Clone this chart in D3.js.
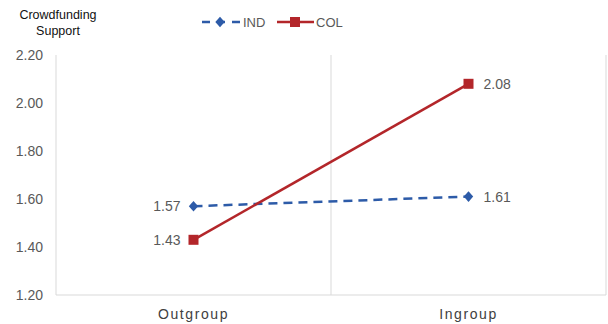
<!DOCTYPE html>
<html><head><meta charset="utf-8">
<script src="https://cdn.jsdelivr.net/npm/d3@7"></script>
<style>body{margin:0;background:#fff;}svg{display:block;font-family:"Liberation Sans",Arial,sans-serif;}</style>
</head><body>
<svg id="c" width="608" height="324"></svg>
<script>
const categories = ["Outgroup", "Ingroup"];
const seriesNames = ["IND", "COL"];
const indValues = [1.57, 1.61];
const colValues = [1.43, 2.08];
const yTicks = [1.20, 1.40, 1.60, 1.80, 2.00, 2.20];

const svg = d3.select("#c");
const m = {l: 56, r: 2, t: 55, b: 29};
const W = 608, H = 324;
const x = d3.scaleBand().domain(categories).range([m.l, W - m.r]);
const y = d3.scaleLinear().domain([1.2, 2.2]).range([H - m.b, m.t]);
const grid = "#d9d9d9", txt = "#595959";
const blue = "#2d5ba8", red = "#b3262a";

// frame lines: left axis, bottom, category separators
svg.append("line").attr("x1", m.l).attr("x2", m.l).attr("y1", y(2.2)).attr("y2", y(1.2)).attr("stroke", grid);
svg.append("line").attr("x1", m.l).attr("x2", W - m.r).attr("y1", y(1.2)).attr("y2", y(1.2)).attr("stroke", grid);
categories.forEach(c => {
  svg.append("line").attr("x1", x(c) + x.bandwidth()).attr("x2", x(c) + x.bandwidth())
    .attr("y1", y(2.2)).attr("y2", y(1.2)).attr("stroke", grid);
});

// y axis
const ya = svg.append("g").attr("transform", `translate(${m.l},0)`)
  .call(d3.axisLeft(y).tickValues(yTicks).tickFormat(d3.format(".2f")).tickSize(0).tickPadding(13));
ya.select(".domain").remove();
ya.selectAll("text").attr("fill", txt).attr("font-size", 14).attr("font-family", "Liberation Sans, Arial, sans-serif");

// x axis
const xa = svg.append("g").attr("transform", `translate(0,${y(1.2)})`)
  .call(d3.axisBottom(x).tickSize(0).tickPadding(14));
xa.select(".domain").remove();
xa.selectAll("text").attr("fill", "#404040").attr("font-size", 14).attr("letter-spacing", "1.6px")
  .attr("font-family", "Liberation Sans, Arial, sans-serif");

// y title
const yt = svg.append("text").attr("x", 58).attr("font-size", 12.5).attr("fill", "#111").attr("text-anchor", "middle");
yt.append("tspan").attr("x", 58).attr("y", 19).text("Crowdfunding");
yt.append("tspan").attr("x", 58).attr("y", 35).text("Support");

const cx = c => x(c) + x.bandwidth() / 2;
const line = d3.line().x((d, i) => cx(categories[i])).y(d => y(d));

// IND
svg.append("path").datum(indValues).attr("d", line).attr("fill", "none").attr("stroke", blue)
  .attr("stroke-width", 2.5).attr("stroke-dasharray", "9,6");
const diamond = d3.symbol().type(d3.symbolDiamond).size(45);
svg.selectAll(".ind").data(indValues).enter().append("path")
  .attr("d", diamond).attr("fill", blue)
  .attr("transform", (d, i) => `translate(${cx(categories[i])},${y(d)}) scale(1.3,0.85)`);

// COL
svg.append("path").datum(colValues).attr("d", line).attr("fill", "none").attr("stroke", red).attr("stroke-width", 2.5);
svg.selectAll(".col").data(colValues).enter().append("rect")
  .attr("x", (d, i) => cx(categories[i]) - 5).attr("y", d => y(d) - 5)
  .attr("width", 10).attr("height", 10).attr("fill", red);

// data labels
const lab = (v, i, side) => svg.append("text")
  .attr("x", side === "l" ? cx(categories[i]) - 13 : cx(categories[i]) + 15)
  .attr("y", y(v)).attr("dy", "0.35em").attr("text-anchor", side === "l" ? "end" : "start")
  .attr("font-size", 14).attr("fill", txt).text(d3.format(".2f")(v));
lab(indValues[0], 0, "l"); lab(colValues[0], 0, "l");
lab(indValues[1], 1, "r"); lab(colValues[1], 1, "r");

// legend
const lg = svg.append("g");
lg.append("line").attr("x1", 202).attr("x2", 240).attr("y1", 22).attr("y2", 22)
  .attr("stroke", blue).attr("stroke-width", 2.5).attr("stroke-dasharray", "8,7");
lg.append("path").attr("d", diamond).attr("fill", blue).attr("transform", "translate(220,22) scale(1.3,0.85)");
lg.append("text").attr("x", 243).attr("y", 22).attr("dy", "0.35em").attr("font-size", 13).attr("fill", txt).text(seriesNames[0]);
lg.append("line").attr("x1", 277).attr("x2", 314).attr("y1", 22).attr("y2", 22).attr("stroke", red).attr("stroke-width", 2.5);
lg.append("rect").attr("x", 290).attr("y", 17).attr("width", 10).attr("height", 10).attr("fill", red);
lg.append("text").attr("x", 316).attr("y", 22).attr("dy", "0.35em").attr("font-size", 13).attr("fill", txt).text(seriesNames[1]);
</script>
</body></html>
